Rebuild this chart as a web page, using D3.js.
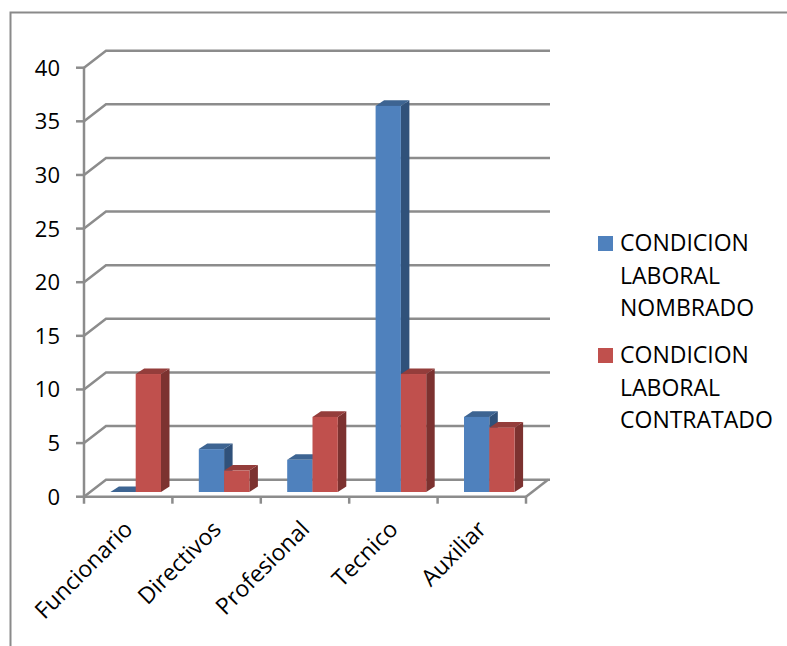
<!DOCTYPE html>
<html>
<head>
<meta charset="utf-8">
<script src="https://cdn.jsdelivr.net/npm/d3@7"></script>
<style>
  html, body { margin: 0; padding: 0; background: #fff; }
  svg { display: block; }
  text { font-family: "Open Sans", "Noto Sans", sans-serif; fill: #000; }
</style>
</head>
<body>
<svg id="chart" width="787" height="646"></svg>
<script>
const categories = ["Funcionario", "Directivos", "Profesional", "Tecnico", "Auxiliar"];
const seriesNames = ["CONDICION LABORAL NOMBRADO", "CONDICION LABORAL CONTRATADO"];
const nombrado = [0, 4, 3, 36, 7];
const contratado = [11, 2, 7, 11, 6];
const yTicks = [0, 5, 10, 15, 20, 25, 30, 35, 40];

// Colours per series: front, top and side faces of each column.
const faces = [
  { front: "#4f81bd", top: "#3d6492", side: "#30517a" },
  { front: "#c0504d", top: "#943d3b", side: "#7c3230" }
];
const axisColor = "#8c8c8c";

const svg = d3.select("#chart");

const x = d3.scaleBand().domain(categories).range([84, 526]);
const inner = d3.scaleBand().domain([0, 1]).range([26.4, 77]);
const y = d3.scaleLinear().domain([0, 40]).range([496.7, 67.7]);

// Floor recess and wall depth of the oblique projection.
const wallDx = 22, wallDy = -17;
const barLift = 4.7, barDx = 8.5, barDy = -5.6;

// Chart frame: only the top and left edges are visible.
svg.append("path")
  .attr("d", "M10.5,646V12.5H787")
  .attr("fill", "none").attr("stroke", "#8a8a8a").attr("stroke-width", 2);

// Back wall gridlines with their slanted joins to the front axis.
const grid = svg.append("g").attr("fill", "none").attr("stroke", axisColor).attr("stroke-width", 2.5);
grid.selectAll("path").data(yTicks).join("path")
  .attr("d", d => `M${x.range()[0]},${y(d)}L${x.range()[0] + wallDx},${y(d) + wallDy}H${x.range()[1] + wallDx + 2}`);

// Floor's right edge.
grid.append("path")
  .attr("d", `M${x.range()[1]},${y(0)}L${x.range()[1] + wallDx},${y(0) + wallDy}`);

// Front value axis and category axis.
const axes = svg.append("g").attr("stroke", axisColor).attr("stroke-width", 2.5).attr("fill", "none");
axes.append("path").attr("d", `M${x.range()[0]},${y(40)}V${y(0) + 7}`);
axes.append("path").attr("d", `M${x.range()[0]},${y(0)}H${x.range()[1]}`);
axes.selectAll(".ytick").data(yTicks).join("path").attr("class", "ytick")
  .attr("d", d => `M${x.range()[0] - 8},${y(d)}H${x.range()[0]}`);
axes.selectAll(".xtick").data(categories).join("path").attr("class", "xtick")
  .attr("d", d => `M${x(d) + x.bandwidth()},${y(0)}v7`);

// Columns are painted category by category so nearer faces overlap correctly.
const bars = svg.append("g");
categories.forEach((c, i) => {
  [nombrado[i], contratado[i]].forEach((v, s) => {
    const x0 = x(c) + inner(s);
    const w = inner.bandwidth();
    const base = y(0) - barLift;
    const top = y(v) - barLift;
    const g = bars.append("g");
    g.append("path").attr("fill", faces[s].side)
      .attr("d", `M${x0 + w},${base}L${x0 + w + barDx},${base + barDy}V${top + barDy}L${x0 + w},${top}Z`);
    g.append("path").attr("fill", faces[s].top)
      .attr("d", `M${x0},${top}L${x0 + barDx},${top + barDy}H${x0 + w + barDx}L${x0 + w},${top}Z`);
    if (v > 0) {
      g.append("rect").attr("x", x0).attr("y", top).attr("width", w).attr("height", base - top)
        .attr("fill", faces[s].front);
    }
  });
});

// Value labels.
svg.append("g").selectAll("text").data(yTicks).join("text")
  .attr("x", 60).attr("y", d => y(d) + 8)
  .attr("text-anchor", "end").attr("font-size", 22)
  .text(d => d);

// Slanted category labels, ending under the middle of each band.
svg.append("g").selectAll("text").data(categories).join("text")
  .attr("transform", d => `translate(${x(d) + x.bandwidth() * 0.6 - 3},${y(0) + 34}) rotate(-45)`)
  .attr("text-anchor", "end").attr("font-size", 23)
  .text(d => d);

// Legend with wrapped series names.
const legendRows = [
  { swatchY: 236, lines: ["CONDICION", "LABORAL", "NOMBRADO"], firstBase: 251 },
  { swatchY: 348, lines: ["CONDICION", "LABORAL", "CONTRATADO"], firstBase: 363.3 }
];
const legend = svg.append("g");
legendRows.forEach((row, s) => {
  legend.append("rect").attr("x", 598).attr("y", row.swatchY).attr("width", 15).attr("height", 15)
    .attr("fill", faces[s].front);
  row.lines.forEach((t, j) => {
    legend.append("text").attr("x", 620).attr("y", row.firstBase + j * 32.5)
      .attr("font-size", 23).text(t);
  });
});
</script>
</body>
</html>
